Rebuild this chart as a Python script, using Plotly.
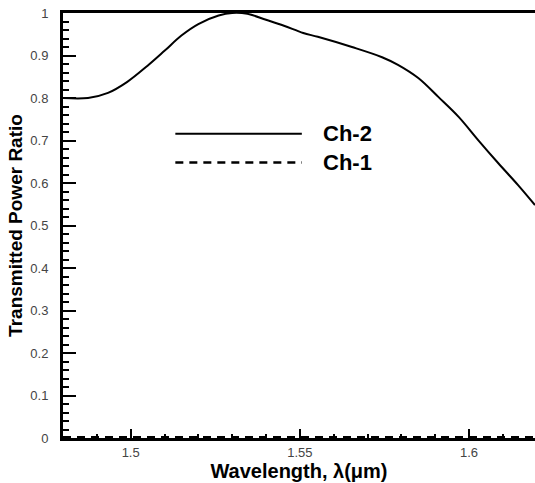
import plotly.graph_objects as go

# Channel transmission spectra
wavelength_ch2 = [1.480, 1.4874, 1.4933, 1.499, 1.505, 1.510, 1.515, 1.520, 1.526, 1.530,
                  1.5345, 1.540, 1.5453, 1.551, 1.5553, 1.5654, 1.5743, 1.579, 1.585,
                  1.591, 1.597, 1.6027, 1.6086, 1.6145, 1.6195]
power_ch2 = [0.800, 0.800, 0.812, 0.838, 0.876, 0.911, 0.947, 0.974, 0.994, 1.000,
             0.998, 0.984, 0.970, 0.953, 0.944, 0.920, 0.896, 0.878, 0.847,
             0.802, 0.755, 0.701, 0.647, 0.595, 0.548]

wavelength_ch1 = [1.480, 1.50, 1.52, 1.54, 1.56, 1.58, 1.60, 1.6195]
power_ch1 = [0.002, 0.002, 0.002, 0.002, 0.002, 0.002, 0.002, 0.002]

x_ticks = [1.5, 1.55, 1.6]
x_tick_labels = ["1.5", "1.55", "1.6"]
y_ticks = [0, 0.1, 0.2, 0.3, 0.4, 0.5, 0.6, 0.7, 0.8, 0.9, 1]
y_tick_labels = ["0", "0.1", "0.2", "0.3", "0.4", "0.5", "0.6", "0.7", "0.8", "0.9", "1"]
legend_names = ["Ch-2", "Ch-1"]

FONT = "Liberation Sans, Arial, sans-serif"

fig = go.Figure()
fig.add_trace(go.Scatter(x=wavelength_ch2, y=power_ch2, mode="lines", name=legend_names[0],
                         line=dict(color="black", width=2, shape="spline", smoothing=1.0)))
fig.add_trace(go.Scatter(x=wavelength_ch1, y=power_ch1, mode="lines", name=legend_names[1],
                         line=dict(color="black", width=2.5, dash="8px,6px")))

# Legend drawn by hand so the line samples can be long
legend_rows = [(0.716, "solid", 2.0), (0.648, "8px,6px", 2.5)]
for (yp, dash, lw), name in zip(legend_rows, legend_names):
    fig.add_shape(type="line", xref="paper", yref="paper", x0=0.238, x1=0.506,
                  y0=yp, y1=yp, line=dict(color="black", width=lw, dash=dash))
    fig.add_annotation(xref="paper", yref="paper", x=0.546, y=yp, text=f"<b>{name}</b>",
                       showarrow=False, xanchor="left", yanchor="middle",
                       font=dict(family=FONT, size=22, color="black"))

tick_font = dict(family=FONT, size=13, color="#444")

fig.update_layout(
    width=535, height=483,
    margin=dict(l=63, r=0, t=13, b=45),
    paper_bgcolor="white", plot_bgcolor="white",
    showlegend=False,
    xaxis=dict(range=[1.48, 1.6195], tickvals=x_ticks, ticktext=x_tick_labels,
               ticks="inside", ticklen=9, tickwidth=2, tickcolor="black",
               minor=dict(dtick=0.01, tick0=1.48, ticks="inside", ticklen=4,
                          tickwidth=1.5, tickcolor="black"),
               showline=True, linecolor="black", linewidth=3, mirror=True,
               showgrid=False, zeroline=False, tickfont=tick_font,
               title=dict(text="<b>Wavelength, λ(μm)</b>", standoff=1,
                          font=dict(family=FONT, size=20, color="black"))),
    yaxis=dict(range=[0, 1], tickvals=y_ticks, ticktext=y_tick_labels,
               ticks="inside", ticklen=13, tickwidth=2, tickcolor="black",
               minor=dict(dtick=0.02, tick0=0, ticks="inside", ticklen=6,
                          tickwidth=1.5, tickcolor="black"),
               showline=True, linecolor="black", linewidth=3,
               showgrid=False, zeroline=False, tickfont=tick_font,
               ticklabelstandoff=9,
               title=dict(text="<b>Transmitted Power Ratio</b>", standoff=3,
                          font=dict(family=FONT, size=19, color="black"))),
)

fig.write_html("out.html")
